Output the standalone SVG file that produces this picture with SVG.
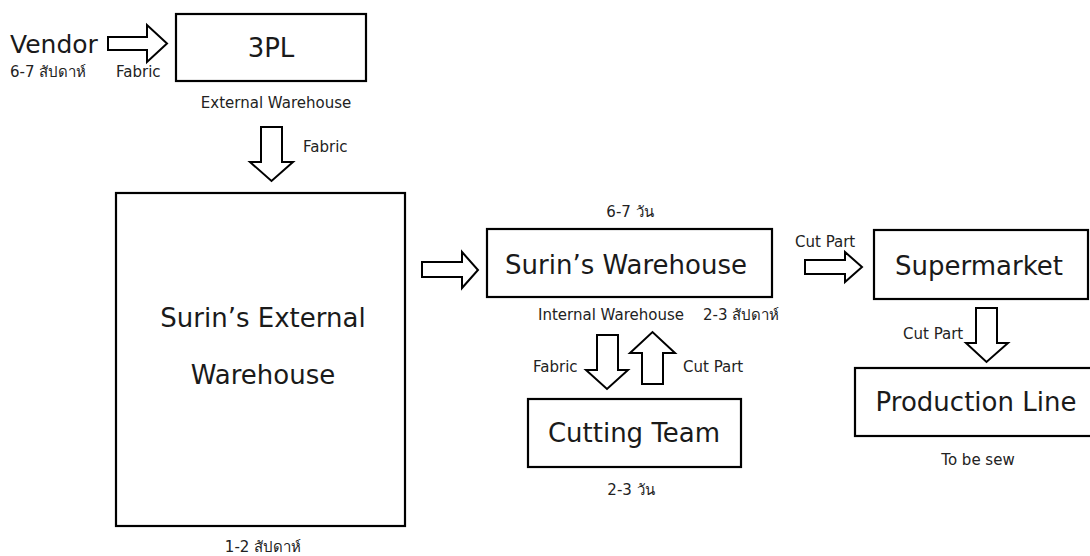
<svg xmlns="http://www.w3.org/2000/svg" width="1090" height="556" viewBox="0 0 1090 556">
<style>
.box{fill:#fff;stroke:#000;stroke-width:2.2}
.arr{fill:#fff;stroke:#000;stroke-width:2;stroke-linejoin:miter}
.big{font-family:"DejaVu Sans","Noto Sans",sans-serif;font-size:26px;fill:#1a1a1a}
.sm{font-family:"DejaVu Sans","Noto Sans",sans-serif;font-size:15px;fill:#222}
.mid{text-anchor:middle}
</style>
<rect width="1090" height="556" fill="#fff"/>
<g id="connectors">
<path class="arr" d="M108,37 H147 V25 L167,43.5 L147,62 V50 H108 Z"/>
<path class="arr" d="M261,127 H282 V162 H293 L271.5,181 L250,162 H261 Z"/>
<path class="arr" d="M422,262 H462 V252 L478,270 L462,288 V277 H422 Z"/>
<path class="arr" d="M805,260 H845 V252 L862,267 L845,282 V274 H805 Z"/>
<path class="arr" d="M597,335 H618 V370 H628 L607,389 L586,370 H597 Z"/>
<path class="arr" d="M642,384 V353 H630 L652.5,332 L675,353 H663 V384 Z"/>
<path class="arr" d="M976,308 H997 V343 H1008 L986.5,362 L966,343 H976 Z"/>
</g>
<g id="vendor">
<text class="big" x="10" y="53" style="font-size:25px">Vendor</text>
<text class="sm" x="10" y="77">6-7 สัปดาห์</text>
<text class="sm" x="116" y="77">Fabric</text>
</g>
<g id="n3pl">
<rect class="box" x="176" y="14" width="190" height="67"/>
<text class="big mid" x="271" y="57">3PL</text>
<text class="sm mid" x="276" y="108">External Warehouse</text>
</g>
<text class="sm" x="303" y="152">Fabric</text>
<g id="external">
<rect class="box" x="116" y="193" width="289" height="333"/>
<text class="big mid" x="263" y="327">Surin’s External</text>
<text class="big mid" x="263" y="384">Warehouse</text>
<text class="sm mid" x="263" y="552">1-2 สัปดาห์</text>
</g>
<g id="surin">
<text class="sm mid" x="630" y="217">6-7 วัน</text>
<rect class="box" x="487" y="229" width="285" height="68"/>
<text class="big mid" x="626" y="274">Surin’s Warehouse</text>
<text class="sm" x="538" y="320">Internal Warehouse</text>
<text class="sm" x="703" y="320">2-3 สัปดาห์</text>
</g>
<text class="sm" x="533" y="372">Fabric</text>
<text class="sm" x="683" y="372">Cut Part</text>
<g id="cutting">
<rect class="box" x="528" y="399" width="213" height="68"/>
<text class="big mid" x="634" y="442">Cutting Team</text>
<text class="sm mid" x="631" y="495">2-3 วัน</text>
</g>
<text class="sm" x="795" y="247">Cut Part</text>
<g id="supermarket">
<rect class="box" x="874" y="230" width="214" height="69"/>
<text class="big mid" x="979" y="275">Supermarket</text>
</g>
<text class="sm" x="903" y="339">Cut Part</text>
<g id="production">
<rect class="box" x="855" y="368" width="245" height="68"/>
<text class="big mid" x="976" y="411">Production Line</text>
<text class="sm mid" x="978" y="465">To be sew</text>
</g>
</svg>
